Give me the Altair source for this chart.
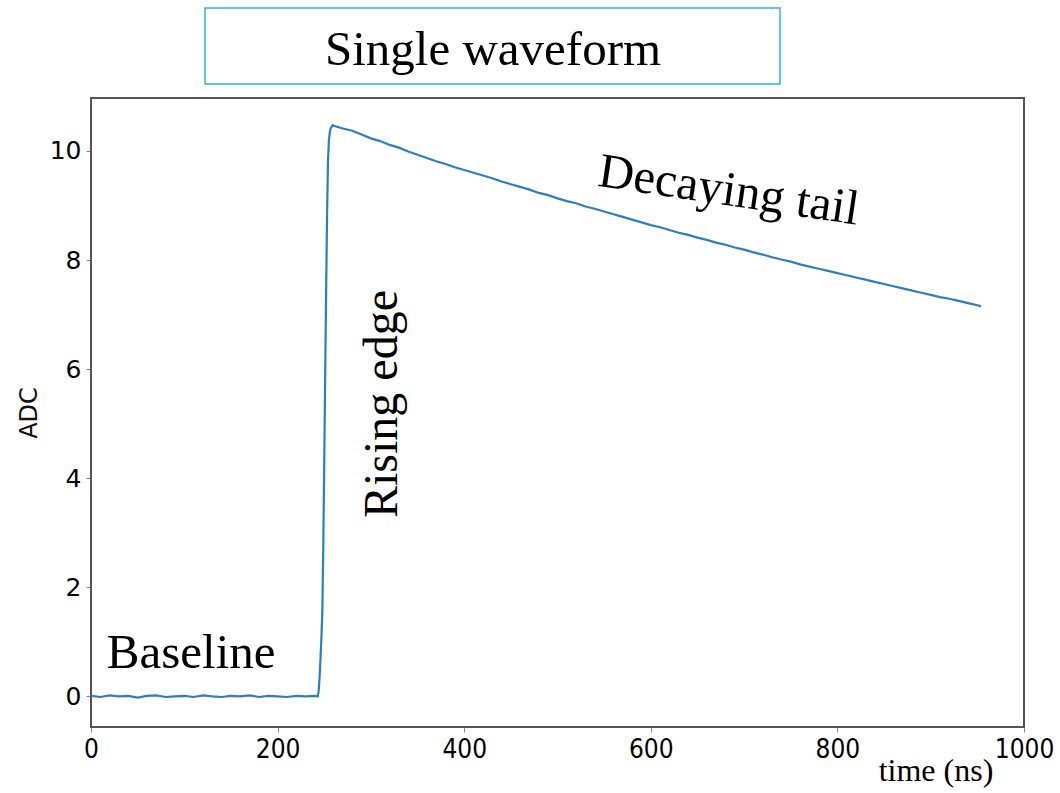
import altair as alt
import pandas as pd

# Waveform samples: time in ns, amplitude in ADC counts
baseline_t = [0, 10, 20, 30, 40, 50, 60, 70, 80, 90, 100, 110, 120, 130, 140, 150,
              160, 170, 180, 190, 200, 210, 220, 230, 240, 243]
baseline_adc = [0.01, -0.01, 0.02, 0.00, 0.01, -0.02, 0.01, 0.02, -0.01, 0.00, 0.01, -0.01,
                0.02, 0.00, -0.01, 0.01, 0.00, 0.02, -0.01, 0.01, 0.00, -0.01, 0.01, 0.00,
                0.01, 0.00]

rise_t = [244, 245, 246, 247, 248, 249, 250, 251, 252, 253, 254, 255, 256, 257, 259]
rise_adc = [0.10, 0.35, 0.70, 1.10, 1.60, 2.80, 4.30, 5.90, 7.40, 8.80, 9.80, 10.20,
            10.35, 10.42, 10.47]

tail_t = [260, 270, 280, 290, 300, 310, 320, 330, 340, 350, 360, 370, 380, 390, 400,
          410, 420, 430, 440, 450, 460, 470, 480, 490, 500, 510, 520, 530, 540, 550,
          560, 570, 580, 590, 600, 610, 620, 630, 640, 650, 660, 670, 680, 690, 700,
          710, 720, 730, 740, 750, 760, 770, 780, 790, 800, 810, 820, 830, 840, 850,
          860, 870, 880, 890, 900, 910, 920, 930, 940, 950, 954]
tail_adc = [10.46, 10.41, 10.37, 10.30, 10.23, 10.18, 10.11, 10.06, 9.99, 9.93, 9.87, 9.81,
            9.76, 9.70, 9.65, 9.60, 9.55, 9.50, 9.44, 9.39, 9.34, 9.29, 9.23, 9.19, 9.13,
            9.08, 9.04, 8.98, 8.94, 8.89, 8.84, 8.79, 8.74, 8.69, 8.64, 8.60, 8.55, 8.50,
            8.46, 8.41, 8.37, 8.32, 8.28, 8.23, 8.19, 8.14, 8.10, 8.05, 8.01, 7.97, 7.92,
            7.88, 7.84, 7.80, 7.76, 7.72, 7.68, 7.64, 7.60, 7.56, 7.52, 7.48, 7.44, 7.40,
            7.36, 7.32, 7.29, 7.25, 7.21, 7.17, 7.15]

y_ticks = [0, 2, 4, 6, 8, 10]
x_ticks = [0, 200, 400, 600, 800, 1000]

wave = pd.DataFrame({
    "t": baseline_t + rise_t + tail_t,
    "adc": baseline_adc + rise_adc + tail_adc,
})

# Region labels placed in data coordinates
labels = pd.DataFrame({
    "t": [17, 328, 542],
    "adc": [0.52, 5.36, 9.36],
    "text": ["Baseline", "Rising edge", "Decaying tail"],
    "angle": [0, 270, 8.5],
    "align": ["left", "center", "left"],
    "size": [49, 48, 49],
})

W, H = 933, 629
x_scale = alt.Scale(domain=[0, 1000], nice=False, zero=False)
y_scale = alt.Scale(domain=[-0.56, 10.97], nice=False, zero=False)

line = alt.Chart(wave).mark_line(color="#2f7fbd", strokeWidth=2.2).encode(
    x=alt.X("t:Q", scale=x_scale,
            axis=alt.Axis(values=x_ticks, title=None, format="d", grid=False,
                          labelFlush=False, labelOverlap=False,
                          labelFont="DejaVu Sans Condensed", labelFontSize=26,
                          labelPadding=4)),
    y=alt.Y("adc:Q", scale=y_scale,
            axis=alt.Axis(values=y_ticks, title="ADC", format="d", grid=False,
                          labelFlush=False, labelOverlap=False,
                          labelFont="DejaVu Sans", labelFontSize=25,
                          labelPadding=5, titleFont="DejaVu Sans",
                          titleFontSize=24, titleFontWeight="normal",
                          titleColor="#111111", titlePadding=8)),
)

def region_label(r):
    return alt.Chart(labels[labels["text"] == r.text]).mark_text(
        font="Liberation Serif", fontSize=r.size, color="black",
        angle=r.angle, align=r.align, baseline="alphabetic",
    ).encode(x=alt.X("t:Q", scale=x_scale), y=alt.Y("adc:Q", scale=y_scale), text="text:N")

texts = [region_label(r) for r in labels.itertuples()]

# Plot frame
frame = alt.Chart(pd.DataFrame({"k": [0]})).mark_rect(
    fillOpacity=0, stroke="#555555", strokeWidth=2
).encode(x=alt.value(0), x2=alt.value(W), y=alt.value(0), y2=alt.value(H))

# Title box above the plot
title_box = alt.Chart(pd.DataFrame({"k": [0]})).mark_rect(
    fill="white", stroke="#2fb3e6", strokeWidth=1.5
).encode(x=alt.value(114), x2=alt.value(689), y=alt.value(-90), y2=alt.value(-14))

title_text = alt.Chart(pd.DataFrame({"text": ["Single waveform"]})).mark_text(
    font="Liberation Serif", fontSize=49, color="black", align="center", baseline="alphabetic"
).encode(x=alt.value(402), y=alt.value(-33), text="text:N")

x_title = alt.Chart(pd.DataFrame({"text": ["time (ns)"]})).mark_text(
    font="Liberation Serif", fontSize=32, color="black", align="center", baseline="alphabetic"
).encode(x=alt.value(845), y=alt.value(683), text="text:N")

chart = alt.layer(frame, line, *texts, title_box, title_text, x_title).properties(
    width=W, height=H,
    autosize=alt.AutoSizeParams(type="none"),
    padding={"left": 91, "top": 98, "right": 36, "bottom": 66},
).configure_view(
    stroke=None
).configure_axis(
    domain=False, grid=False, ticks=True, tickColor="#444444", tickSize=6,
    tickWidth=1.4, labelColor="#111111",
).configure(background="white")

chart.save("out.html", embed_options={"renderer": "svg", "actions": False})
